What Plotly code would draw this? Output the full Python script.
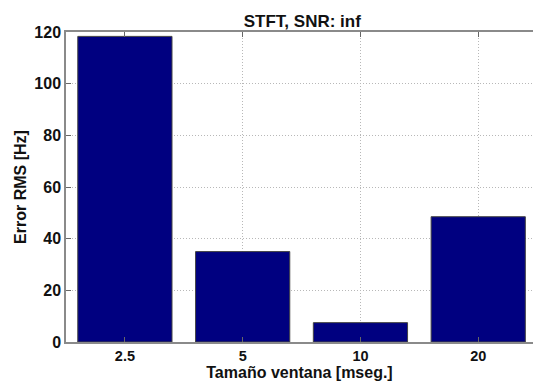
import plotly.graph_objects as go

categories = ["2.5", "5", "10", "20"]
rms_error = [118.3, 35.0, 7.5, 48.5]
y_ticks = [0, 20, 40, 60, 80, 100, 120]

font = dict(family="Liberation Sans, Arial, sans-serif", size=16, color="#111111", weight="bold")
xtick_font = dict(font, size=14.5)
title_font = dict(font, size=17)

fig = go.Figure(go.Bar(
    x=categories, y=rms_error,
    marker=dict(color="#000080", line=dict(color="#444444", width=1)),
    width=0.8,
))

axis_common = dict(
    showline=True, linecolor="#8a8a8a", linewidth=1.5,
    ticks="inside", ticklen=5, tickcolor="#666666",
    showgrid=True, gridcolor="#b8b8b8", griddash="1px,2px", gridwidth=1,
    zeroline=False, tickfont=font,
)

fig.update_layout(
    width=533, height=381,
    margin=dict(l=66, r=0, t=32, b=39),
    plot_bgcolor="white", paper_bgcolor="white",
    showlegend=False,
    title=dict(text="STFT, SNR: inf", xref="paper", x=0.506, xanchor="center",
               yref="container", y=1 - 21 / 381, yanchor="middle", font=title_font),
    xaxis=dict(axis_common, type="category", range=[-0.5, 3.465], mirror="ticks",
               tickfont=xtick_font, ticklabelstandoff=0,
               title=dict(text="Tamaño ventana [mseg.]", font=font, standoff=1)),
    yaxis=dict(axis_common, range=[0, 120], tickvals=y_ticks, mirror=False,
               title=dict(text="Error RMS [Hz]", font=font, standoff=4)),
)

fig.write_html("out.html")
